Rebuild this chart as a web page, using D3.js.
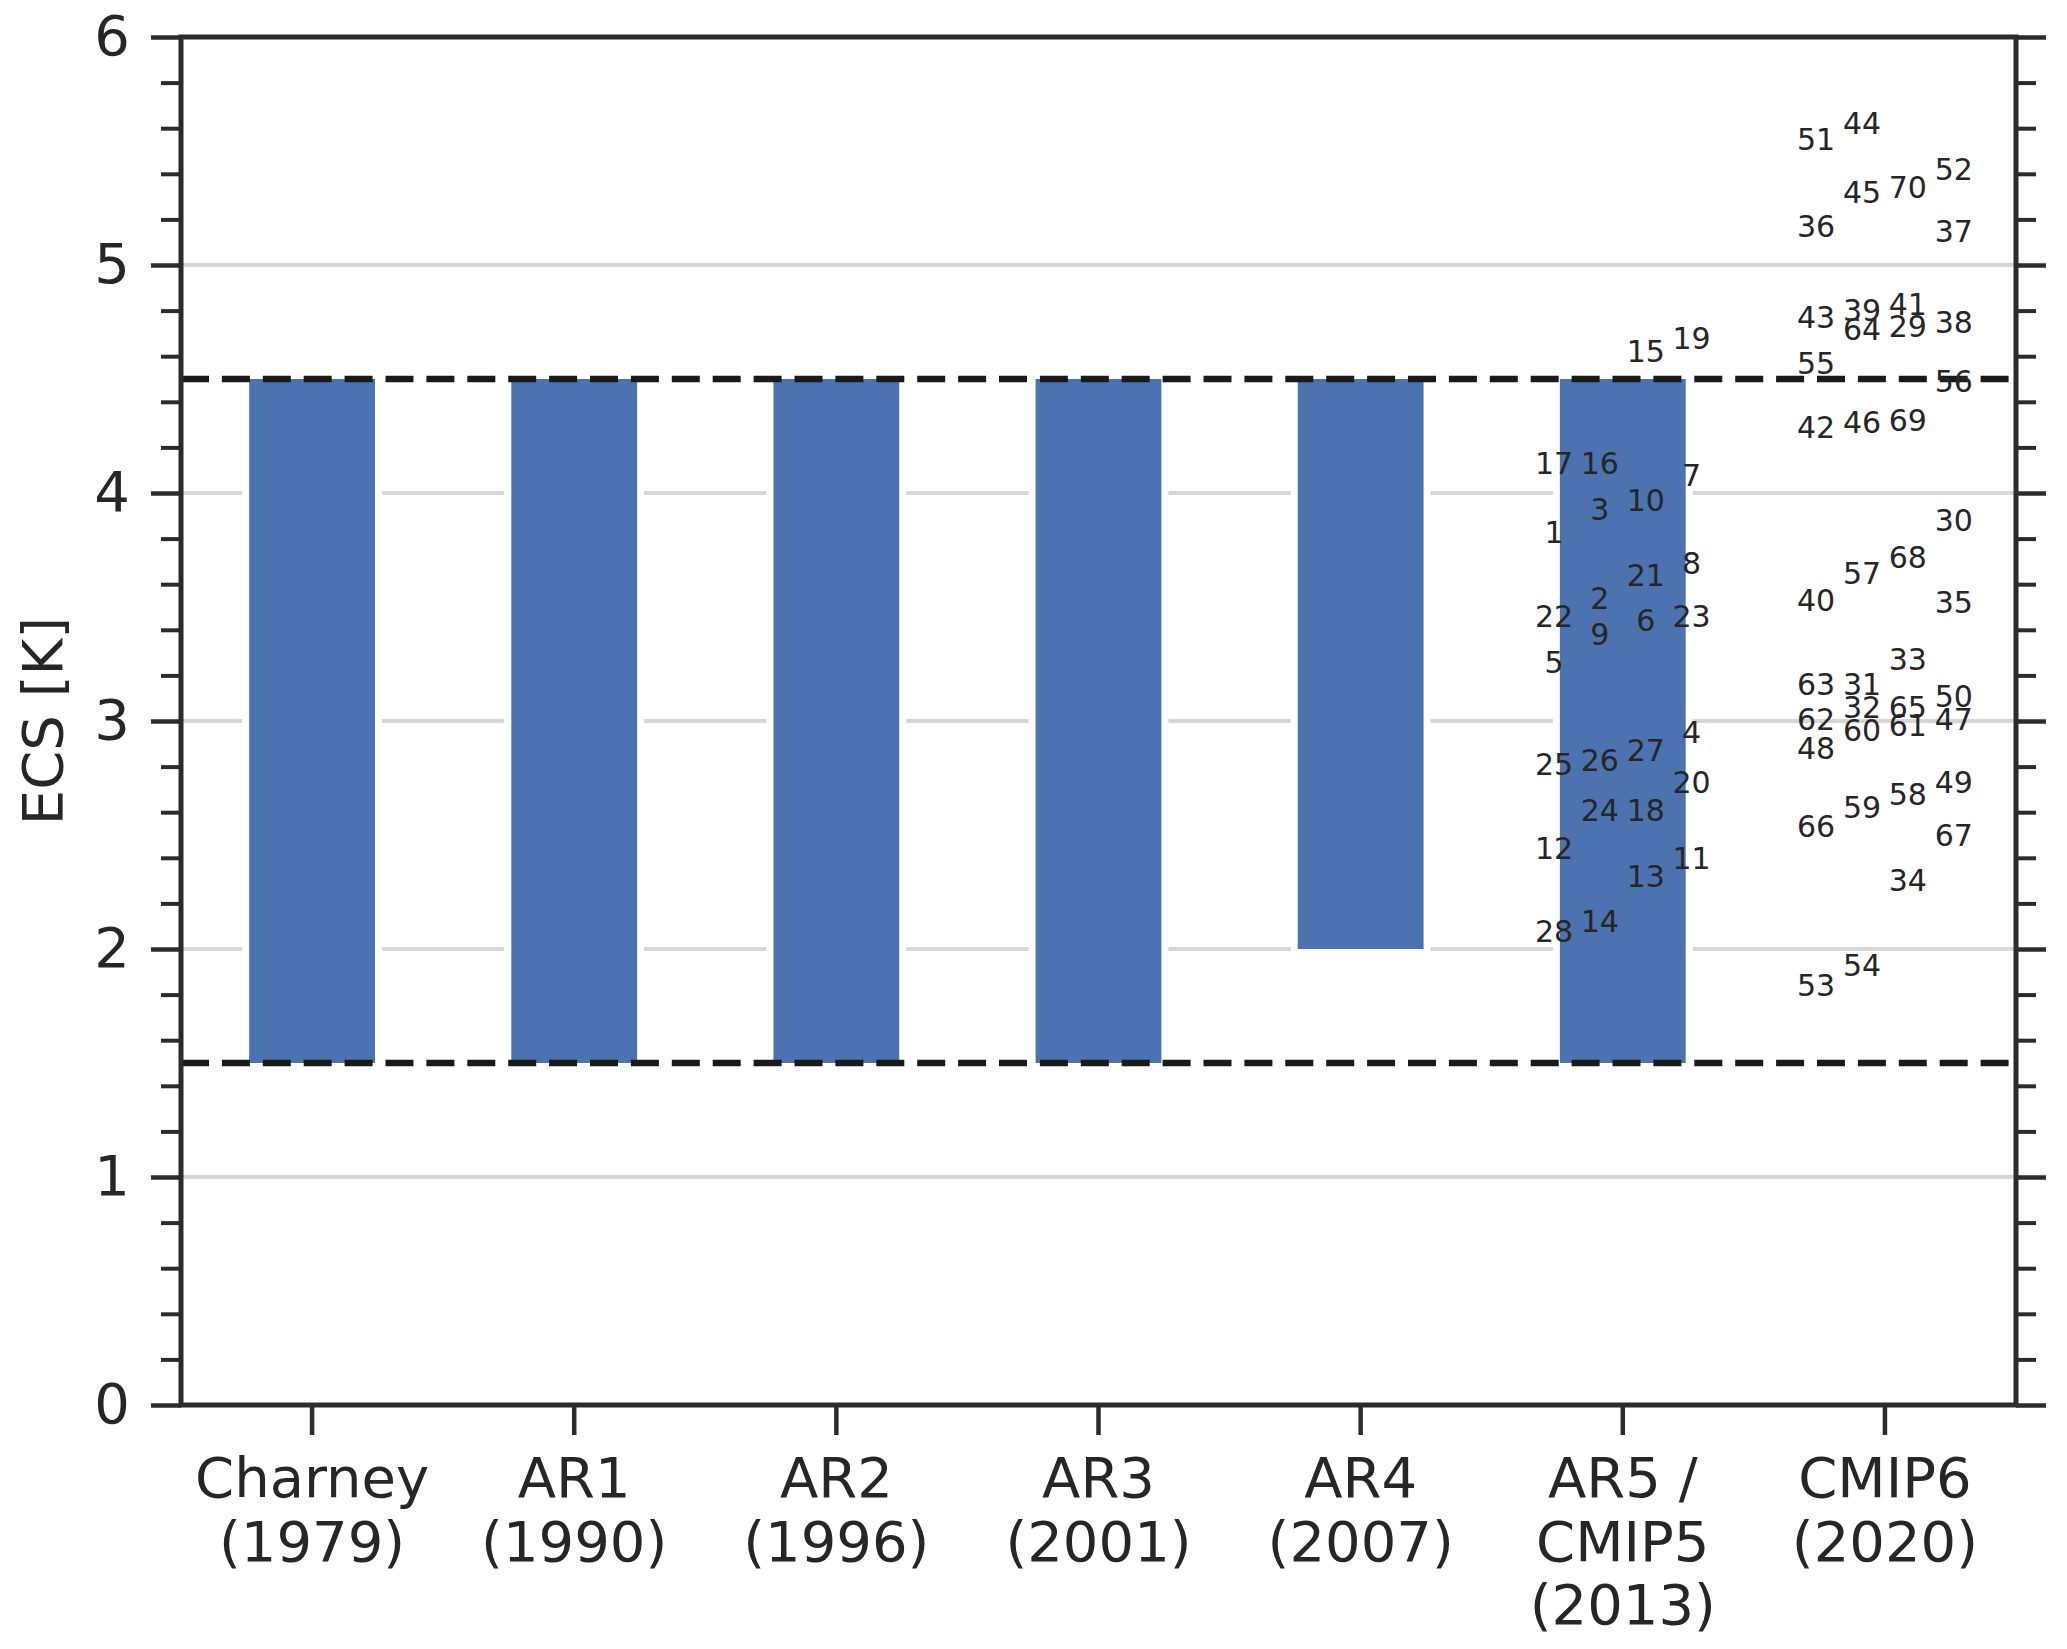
<!DOCTYPE html>
<html>
    <head>
        <meta charset="utf-8">
        <script src="https://d3js.org/d3.v7.min.js"></script>
        <title>ECS assessments</title>
        <style>
            body { margin: 0; background-color: #ffffff }
            text { font-family: "DejaVu Sans", sans-serif; fill: #262626 }
        </style>
    </head>
    <body>
        <script>
            /* data */
            const categories = ['Charney (1979)', 'AR1 (1990)', 'AR2 (1996)', 'AR3 (2001)', 'AR4 (2007)', 'AR5 / CMIP5 (2013)', 'CMIP6 (2020)']
            const categoryLines = [
                ['Charney', '(1979)'],
                ['AR1', '(1990)'],
                ['AR2', '(1996)'],
                ['AR3', '(2001)'],
                ['AR4', '(2007)'],
                ['AR5 /', 'CMIP5', '(2013)'],
                ['CMIP6', '(2020)']
            ]
            const rangeCategories = categories.slice(0, 6)
            const rangeLow = [1.5, 1.5, 1.5, 1.5, 2.0, 1.5]
            const rangeHigh = [4.5, 4.5, 4.5, 4.5, 4.5, 4.5]
            const dashedLevels = [1.5, 4.5]

            // CMIP5 models (numbered 1-28), ECS [K] and sub-column
            const cmip5Ids = [1, 2, 3, 4, 5, 6, 7, 8, 9, 10, 11, 12, 13, 14, 15, 16, 17, 18, 19, 20, 21, 22, 23, 24, 25, 26, 27, 28]
            const cmip5Ecs = [3.83, 3.54, 3.93, 2.95, 3.26, 3.44, 4.08, 3.69, 3.38, 3.97, 2.40, 2.44, 2.32, 2.12, 4.62, 4.13, 4.13, 2.61, 4.68, 2.73, 3.64, 3.46, 3.46, 2.61, 2.81, 2.83, 2.87, 2.08]
            const cmip5Col = [0, 1, 1, 3, 0, 2, 3, 3, 1, 2, 3, 0, 2, 1, 2, 1, 0, 2, 3, 3, 2, 0, 3, 1, 0, 1, 2, 0]

            // CMIP6 models (numbered 29-70)
            const cmip6Ids = [29, 30, 31, 32, 33, 34, 35, 36, 37, 38, 39, 40, 41, 42, 43, 44, 45, 46, 47, 48, 49, 50, 51, 52, 53, 54, 55, 56, 57, 58, 59, 60, 61, 62, 63, 64, 65, 66, 67, 68, 69, 70]
            const cmip6Ecs = [4.73, 3.88, 3.16, 3.06, 3.27, 2.30, 3.52, 5.17, 5.15, 4.75, 4.80, 3.53, 4.83, 4.29, 4.77, 5.62, 5.32, 4.31, 3.01, 2.88, 2.73, 3.11, 5.55, 5.42, 1.84, 1.93, 4.57, 4.49, 3.65, 2.68, 2.62, 2.96, 2.98, 3.01, 3.16, 4.72, 3.06, 2.54, 2.50, 3.72, 4.32, 5.34]
            const cmip6Col = [2, 3, 1, 1, 2, 2, 3, 0, 3, 3, 1, 0, 2, 0, 0, 1, 1, 1, 3, 0, 3, 3, 0, 3, 0, 1, 0, 3, 1, 2, 1, 1, 2, 0, 0, 1, 2, 0, 3, 2, 2, 2]

            const yMajor = [0, 1, 2, 3, 4, 5, 6]
            const yMinor = d3.range(0, 30).map(i => i / 5).filter(v => !Number.isInteger(v))

            /* canvas setup */
            const width = 2067
            const height = 1649
            const margin = { top: 37, right: 51, bottom: 244, left: 181 }
            const ink = '#2b2b2b'

            const svg = d3.select('body')
                .append('svg')
                    .attr('width', width)
                    .attr('height', height)

            const x = d3.scaleBand()
                .domain(categories)
                .range([margin.left, width - margin.right])
                .padding(0)
            const y = d3.scaleLinear()
                .domain([0, 6])
                .range([height - margin.bottom, margin.top])

            const colOffset = c => (c - 1.5) * 0.175 * x.bandwidth()

            /* grid */
            svg.append('g')
                .selectAll('line')
                .data(yMajor.slice(1, -1))
                .join('line')
                    .attr('x1', margin.left)
                    .attr('x2', width - margin.right)
                    .attr('y1', d => y(d))
                    .attr('y2', d => y(d))
                    .attr('stroke', '#d6d6d6')
                    .attr('stroke-width', 4)

            /* assessed ranges */
            const barW = 0.48 * x.bandwidth()
            svg.append('g')
                .selectAll('rect')
                .data(rangeCategories)
                .join('rect')
                    .attr('x', d => x(d) + (x.bandwidth() - barW) / 2)
                    .attr('width', barW)
                    .attr('y', (d, i) => y(rangeHigh[i]))
                    .attr('height', (d, i) => y(rangeLow[i]) - y(rangeHigh[i]))
                    .attr('fill', '#4c72b0')
                    .attr('stroke', '#ffffff')
                    .attr('stroke-width', 14)
                    .attr('paint-order', 'stroke')

            /* 1.5 - 4.5 K reference lines */
            svg.append('g')
                .selectAll('line')
                .data(dashedLevels)
                .join('line')
                    .attr('x1', margin.left)
                    .attr('x2', width - margin.right)
                    .attr('y1', d => y(d))
                    .attr('y2', d => y(d))
                    .attr('stroke', '#1a1a1a')
                    .attr('stroke-width', 6.5)
                    .attr('stroke-dasharray', '28 12.9')

            /* model numbers */
            const models = [
                ...cmip5Ids.map((id, i) => ({ id, ecs: cmip5Ecs[i], col: cmip5Col[i], cat: categories[5] })),
                ...cmip6Ids.map((id, i) => ({ id, ecs: cmip6Ecs[i], col: cmip6Col[i], cat: categories[6] }))
            ]
            svg.append('g')
                .selectAll('text')
                .data(models)
                .join('text')
                    .attr('x', d => x(d.cat) + x.bandwidth() / 2 + colOffset(d.col))
                    .attr('y', d => y(d.ecs))
                    .attr('dy', '0.36em')
                    .attr('text-anchor', 'middle')
                    .attr('font-size', 30)
                    .text(d => d.id)

            /* axes */
            const styleAxis = (g, w) => {
                g.select('.domain').remove()
                g.selectAll('line').attr('stroke', ink).attr('stroke-width', w)
                g.selectAll('text').attr('font-size', 56).attr('fill', '#262626').style('font-family', '"DejaVu Sans", sans-serif')
            }

            svg.append('g')
                .attr('transform', `translate(${margin.left},0)`)
                .call(d3.axisLeft(y).tickValues(yMajor).tickFormat(d3.format('d')).tickSize(30).tickPadding(21))
                .call(g => styleAxis(g, 4.5))
            svg.append('g')
                .attr('transform', `translate(${margin.left},0)`)
                .call(d3.axisLeft(y).tickValues(yMinor).tickFormat('').tickSize(20))
                .call(g => styleAxis(g, 4))
            svg.append('g')
                .attr('transform', `translate(${width - margin.right},0)`)
                .call(d3.axisRight(y).tickValues(yMajor).tickFormat('').tickSize(30))
                .call(g => styleAxis(g, 4.5))
            svg.append('g')
                .attr('transform', `translate(${width - margin.right},0)`)
                .call(d3.axisRight(y).tickValues(yMinor).tickFormat('').tickSize(20))
                .call(g => styleAxis(g, 4))

            const xAxis = svg.append('g')
                .attr('transform', `translate(0,${height - margin.bottom})`)
                .call(d3.axisBottom(x).tickSize(30).tickFormat(''))
                .call(g => styleAxis(g, 4.5))
            xAxis.selectAll('.tick')
                .append('text')
                    .attr('text-anchor', 'middle')
                    .attr('font-size', 56)
                    .selectAll('tspan')
                    .data((d, i) => categoryLines[i])
                    .join('tspan')
                        .attr('x', 0)
                        .attr('y', (d, i) => 92 + i * 63.5)
                        .text(d => d)

            /* spines */
            svg.append('rect')
                .attr('x', margin.left)
                .attr('y', margin.top)
                .attr('width', width - margin.left - margin.right)
                .attr('height', height - margin.top - margin.bottom)
                .attr('fill', 'none')
                .attr('stroke', ink)
                .attr('stroke-width', 5)

            svg.append('text')
                .attr('transform', `translate(62,${(margin.top + height - margin.bottom) / 2}) rotate(-90)`)
                .attr('text-anchor', 'middle')
                .attr('font-size', 56)
                .text('ECS [K]')
        </script>
    </body>
</html>
